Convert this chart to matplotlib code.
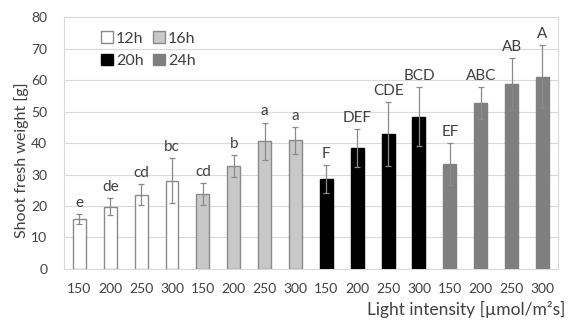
import matplotlib.pyplot as plt
from matplotlib.patches import Patch
import numpy as np

# ------------- dados -------------
intensidades = ['150', '200', '250', '300'] * 4
fotoperiodos = ['12h', '16h', '20h', '24h']

massa = [15.8, 19.8, 23.6, 28.0,
         23.9, 32.8, 40.5, 40.8,
         28.5, 38.4, 42.9, 48.4,
         33.3, 52.6, 58.7, 61.1]
erro = [1.6, 2.8, 3.4, 7.2,
        3.5, 3.5, 6.0, 4.2,
        4.4, 6.0, 10.2, 9.3,
        6.7, 5.1, 8.3, 10.1]
letras = ['e', 'de', 'cd', 'bc',
          'cd', 'b', 'a', 'a',
          'F', 'DEF', 'CDE', 'BCD',
          'EF', 'ABC', 'AB', 'A']

cores = ['white', '#c8c8c8', 'black', '#7f7f7f']
bordas = ['#8a8a8a', '#8a8a8a', 'black', '#7f7f7f']

plt.rcParams['font.family'] = ['Lato', 'DejaVu Sans']
cor_texto = '#404040'

fig = plt.figure(figsize=(5.71, 3.21), dpi=100)
ax = fig.add_axes([0.112, 0.162, 0.865, 0.785])

x = np.arange(len(massa))
cor_barra = [cores[i // 4] for i in x]
cor_borda = [bordas[i // 4] for i in x]

ax.bar(x, massa, width=0.42, color=cor_barra, edgecolor=cor_borda, linewidth=1.0, zorder=3)
ax.errorbar(x, massa, yerr=erro, fmt='none', ecolor='#8a8a8a', elinewidth=0.9,
            capsize=2.5, capthick=0.9, zorder=4)

for xi, m, e, l in zip(x, massa, erro, letras):
    ax.text(xi, m + e + 1.3, l, ha='center', va='bottom', fontsize=11, color=cor_texto)

ax.set_xlim(-0.5, len(massa) - 0.5)
ax.set_ylim(0, 80)
ax.set_yticks(range(0, 81, 10))
ax.set_xticks(x)
ax.set_xticklabels(intensidades)
ax.tick_params(length=0, labelsize=10, colors=cor_texto, pad=10)
ax.tick_params(axis='y', pad=12)
ax.grid(axis='y', color='#d9d9d9', linewidth=0.8, zorder=0)
for s in ax.spines.values():
    s.set_color('#d9d9d9')
    s.set_linewidth(0.8)

ax.set_ylabel('Shoot fresh weight [g]', fontsize=11.5, color=cor_texto)
ax.yaxis.set_label_coords(-0.07, 0.43)
fig.text(0.99, 0.01, 'Light intensity [µmol/m²s]', ha='right', va='bottom',
         fontsize=12.5, color=cor_texto)

handles = [Patch(facecolor=cores[i], edgecolor=bordas[i], linewidth=1.0, label=fotoperiodos[i])
           for i in [0, 2, 1, 3]]
leg = ax.legend(handles=handles, ncol=2, loc='upper left', bbox_to_anchor=(0.045, 1.0),
                frameon=False, handlelength=0.75, handleheight=0.75, handletextpad=0.2,
                columnspacing=0.6, labelspacing=0.5, fontsize=11.5)
for t in leg.get_texts():
    t.set_color(cor_texto)

plt.savefig('out.png', dpi=100)
